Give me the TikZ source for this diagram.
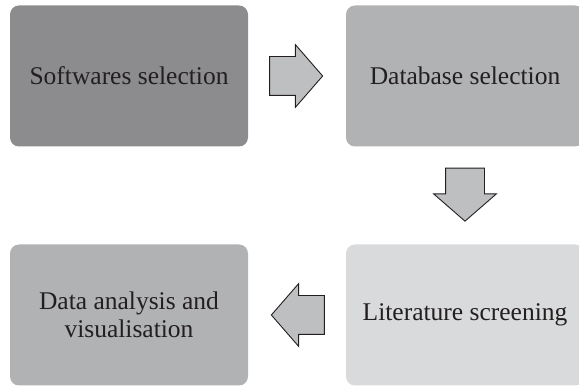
\documentclass[tikz,border=0pt]{standalone}
\usepackage{fontspec}
\setmainfont{Liberation Serif}
\usetikzlibrary{shapes.arrows,calc}

\definecolor{boxdark}{HTML}{8C8C8E}
\definecolor{boxmid}{HTML}{B1B2B4}
\definecolor{boxlight}{HTML}{D9DADB}
\definecolor{arrfill}{HTML}{BEBFC1}
\definecolor{arrline}{HTML}{231F20}

\tikzset{
  stagebox/.style={rectangle, rounded corners=9pt, minimum width=238pt,
    minimum height=141pt, inner sep=0pt, align=center, text=arrline,
    font=\fontsize{25.5}{28}\selectfont},
  blockarrow/.style={single arrow, draw=arrline, fill=arrfill, line width=0.9pt,
    inner xsep=0pt, inner ysep=19pt, minimum height=53pt, anchor=tail,
    single arrow head extend=12pt, single arrow tip angle=98}
}

\begin{document}
\begin{tikzpicture}[x=1pt,y=-1pt]
        \useasboundingbox (0,0) rectangle (579,387);

        \node[stagebox, fill=boxdark]  (soft) at (129, 76)  {Softwares selection};
        \node[stagebox, fill=boxmid]   (db)   at (465, 76)  {Database selection};
        \node[stagebox, fill=boxlight] (lit)  at (465, 315) {Literature screening};
        \node[stagebox, fill=boxmid]   (data) at (129, 315) {Data analysis and\\visualisation};

        \node[blockarrow] (a1) at ($(soft.east)+(21,0)$) {};
        \node[blockarrow, rotate=-90] (a2) at ($(db.south)+(0,21)$) {};
        \node[blockarrow, rotate=180] (a3) at ($(lit.west)+(-21,0)$) {};
      \end{tikzpicture}
\end{document}
